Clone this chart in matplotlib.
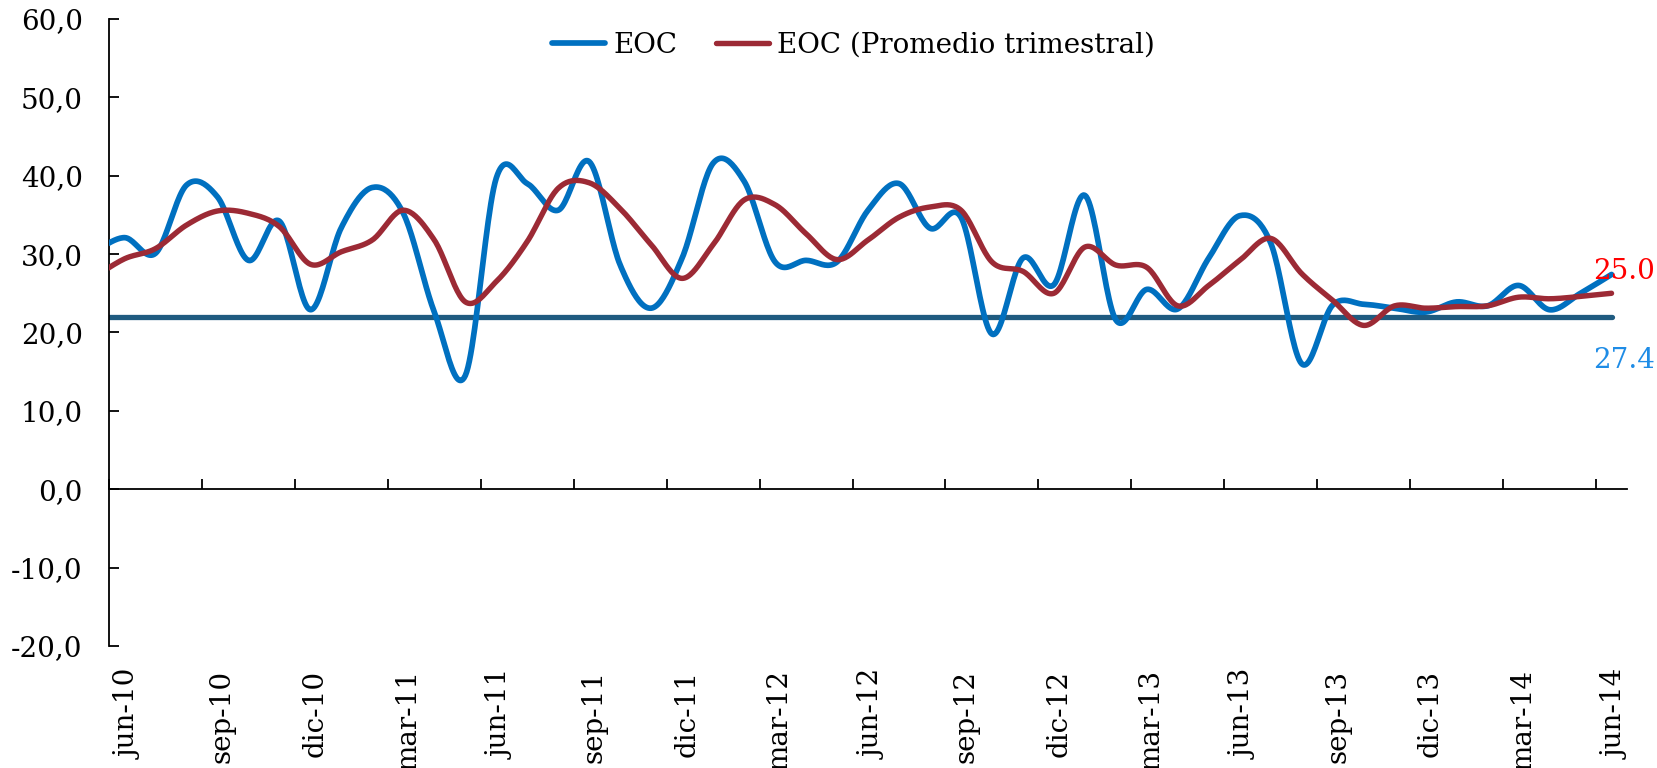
import numpy as np
import matplotlib
matplotlib.use("Agg")
import matplotlib.pyplot as plt
from matplotlib.transforms import ScaledTranslation

# Monthly series, may-10 .. jun-14 (the may-10 value only feeds the edge of the curve)
months = ["may-10",
          "jun-10", "jul-10", "ago-10", "sep-10", "oct-10", "nov-10", "dic-10",
          "ene-11", "feb-11", "mar-11", "abr-11", "may-11", "jun-11", "jul-11",
          "ago-11", "sep-11", "oct-11", "nov-11", "dic-11", "ene-12", "feb-12",
          "mar-12", "abr-12", "may-12", "jun-12", "jul-12", "ago-12", "sep-12",
          "oct-12", "nov-12", "dic-12", "ene-13", "feb-13", "mar-13", "abr-13",
          "may-13", "jun-13", "jul-13", "ago-13", "sep-13", "oct-13", "nov-13",
          "dic-13", "ene-14", "feb-14", "mar-14", "abr-14", "may-14", "jun-14"]

eoc = [30.2,
       32.1, 30.1, 38.8, 37.3, 29.2, 34.2, 22.9,
       33.4, 38.5, 35.2, 22.6, 14.5, 39.7, 39.0,
       35.6, 41.8, 28.6, 23.1, 29.5, 41.6, 39.3,
       29.0, 29.2, 29.0, 35.6, 39.0, 33.3, 34.7,
       19.8, 29.5, 26.1, 37.5, 21.6, 25.5, 23.0,
       29.5, 34.9, 31.4, 16.0, 23.5, 23.6, 23.1,
       22.6, 23.9, 23.4, 26.0, 22.9, 25.0, 27.4]

eoc_trim = [27.0,
            29.4, 30.7, 33.7, 35.5, 35.2, 33.5, 28.7,
            30.3, 31.8, 35.6, 31.8, 23.9, 26.5, 31.6,
            38.4, 39.1, 35.8, 31.2, 26.9, 31.2, 36.9,
            36.3, 32.6, 29.3, 31.8, 34.7, 36.0, 35.6,
            29.0, 27.8, 25.0, 30.9, 28.6, 28.3, 23.4,
            26.0, 29.2, 32.0, 27.5, 24.1, 20.9, 23.4,
            23.1, 23.3, 23.4, 24.5, 24.3, 24.6, 25.0]

umbral = 22.0

tick_labels = ["jun-10", "sep-10", "dic-10", "mar-11", "jun-11", "sep-11",
               "dic-11", "mar-12", "jun-12", "sep-12", "dic-12", "mar-13",
               "jun-13", "sep-13", "dic-13", "mar-14", "jun-14"]

# category positions: jun-10 = 0
x = np.arange(len(months)) - 1.0
n_cat = len(months) - 1


def excel_smooth(xs, ys, steps=24):
    """Bezier smoothing in the style of spreadsheet 'smoothed lines'."""
    pts = np.column_stack([xs, ys]).astype(float)
    n = len(pts)
    out = [pts[0]]
    t = np.linspace(0, 1, steps)[1:, None]
    for i in range(n - 1):
        p0 = pts[i - 1] if i > 0 else pts[i]
        p1 = pts[i]
        p2 = pts[i + 1]
        p3 = pts[i + 2] if i + 2 < n else pts[i + 1]
        c1 = p1 + (p2 - p0) / 6.0
        c2 = p2 - (p3 - p1) / 6.0
        seg = ((1 - t) ** 3) * p1 + 3 * ((1 - t) ** 2) * t * c1 \
            + 3 * (1 - t) * t ** 2 * c2 + t ** 3 * p2
        out.extend(seg)
    out = np.array(out)
    return out[:, 0], out[:, 1]


plt.rcParams["font.family"] = ["DejaVu Serif"]
plt.rcParams["font.size"] = 20

fig = plt.figure(figsize=(16.57, 7.68), dpi=100)
ax = fig.add_axes([0.0658, 0.1589, 0.9161, 0.8164])

ymin, ymax = -20, 60
xmin, xmax = -0.5, n_cat - 0.5
ax.set_xlim(xmin, xmax)
ax.set_ylim(ymin, ymax)

blue = "#0070C0"
red = "#9C2A35"
teal = "#1F5B80"

ax.plot(x, [umbral] * len(x), color=teal, lw=3.8, solid_capstyle="round", zorder=2)
bx, by = excel_smooth(x, eoc)
ax.plot(bx, by, color=blue, lw=4.1, solid_capstyle="round", zorder=3, label="EOC")
rx, ry = excel_smooth(x, eoc_trim)
ax.plot(rx, ry, color=red, lw=3.9, solid_capstyle="round", zorder=4,
        label="EOC (Promedio trimestral)")

# y axis
ax.set_yticks(np.arange(ymin, ymax + 1, 10))
ax.set_yticklabels([f"{v:.1f}".replace(".", ",") for v in np.arange(ymin, ymax + 1, 10)])
ax.tick_params(axis="y", direction="in", length=7, width=1.3, pad=19)

for s in ["top", "right", "bottom"]:
    ax.spines[s].set_visible(False)
ax.spines["left"].set_linewidth(1.3)

# category labels at the bottom of the plot area
label_pos = np.arange(0, n_cat, 3)
ax.set_xticks(label_pos)
ax.set_xticklabels(tick_labels, rotation=90)
ax.tick_params(axis="x", length=0, pad=17)
shift = ScaledTranslation(3.5 / 72, 0, fig.dpi_scale_trans)
for lbl in ax.get_xticklabels():
    lbl.set_transform(lbl.get_transform() + shift)

# horizontal axis drawn at zero, ticks at category boundaries
zero_loc = (0 - ymin) / (ymax - ymin)
sec = ax.secondary_xaxis(zero_loc)
sec.set_xticks(np.arange(-0.5, n_cat, 3))
sec.tick_params(direction="in", length=7, width=1.3, labelbottom=False)
sec.spines["bottom"].set_linewidth(1.3)

# end-of-series values
ax.annotate(f"{eoc_trim[-1]:.1f}", xy=(x[-1], eoc_trim[-1]), xytext=(9, 16),
            textcoords="offset points", color="#FF0000", ha="center", va="center",
            fontsize=20, annotation_clip=False)
ax.annotate(f"{eoc[-1]:.1f}", xy=(x[-1], eoc[-1]), xytext=(9, -62),
            textcoords="offset points", color="#1E8CE6", ha="center", va="center",
            fontsize=20, annotation_clip=False)

fig.legend(loc="center", bbox_to_anchor=(0.515, 0.941), ncol=2, frameon=False,
           handlelength=1.9, handletextpad=0.3, columnspacing=1.4, fontsize=20)

fig.savefig("out.png", dpi=100)
